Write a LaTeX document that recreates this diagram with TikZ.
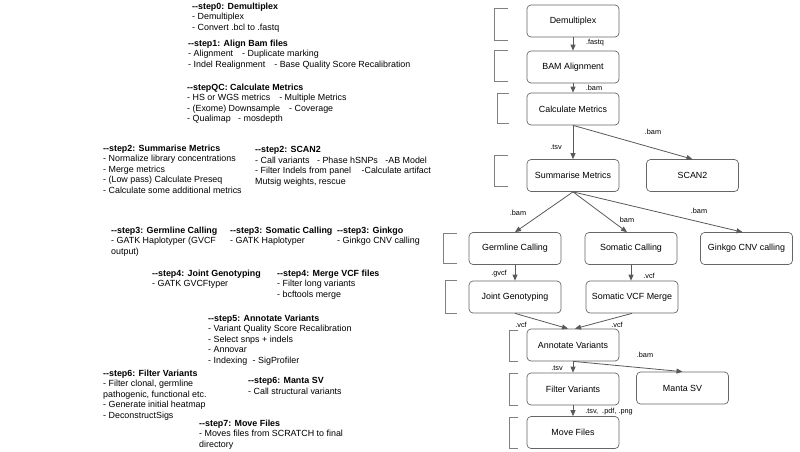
\documentclass[tikz,border=0pt]{standalone}
\usepackage{fontspec}
\setmainfont{Liberation Sans}
\usetikzlibrary{arrows.meta, positioning}

\newcommand{\dblhy}{-\kern0pt-}
\newcommand{\gap}{\hspace*{9pt}}

\begin{document}
\begin{tikzpicture}[
    x=1pt, y=-1pt,
    box/.style = {
        rectangle, rounded corners=4pt,
        draw=black!60, fill=white, line width=0.7pt,
        minimum width=92pt, minimum height=32pt,
        inner sep=0pt, font=\fontsize{8.9}{10.5}\selectfont
    },
    note/.style = {
        anchor=north west, align=left, inner sep=0pt,
        font=\fontsize{8.9}{10.5}\selectfont
    },
    tag/.style = {inner sep=0pt, font=\fontsize{7.3}{8}\selectfont},
    arrow/.style = {-{Triangle[length=6pt, width=5pt]}, line width=0.8pt, black!65},
    brace/.style = {draw=black!50, line width=0.7pt}
]
\useasboundingbox (0,0) rectangle (800,451);

% Cajas
\node[box] (demux)  at (573,21)    {Demultiplex};
\node[box] (bam)    at (573,67)    {BAM Alignment};
\node[box] (calc)   at (573,109)   {Calculate Metrics};
\node[box] (summ)   at (573,175.5) {Summarise Metrics};
\node[box] (scan)   at (692.5,175.5) {SCAN2};
\node[box] (germ)   at (515,248.5) {Germline Calling};
\node[box] (soma)   at (631,248.5) {Somatic Calling};
\node[box] (ginkgo) at (746.5,248.5) {Ginkgo CNV calling};
\node[box] (joint)  at (515,297)   {Joint Genotyping};
\node[box] (merge)  at (632,297)   {Somatic VCF Merge};
\node[box] (annot)  at (573,345)   {Annotate Variants};
\node[box] (filt)   at (573,389)   {Filter Variants};
\node[box] (manta)  at (682.5,388) {Manta SV};
\node[box] (move)   at (573,432.5) {Move Files};

% Corchetes
\draw[brace] (508,8)   -| (494,40)  -- (508,40);
\draw[brace] (508,50)  -| (494,81)  -- (508,81);
\draw[brace] (509,93)  -| (497,123) -- (509,123);
\draw[brace] (508,155) -| (494,186) -- (508,186);
\draw[brace] (457,233) -| (443,263) -- (457,263);
\draw[brace] (457,280) -| (445,313) -- (457,313);
\draw[brace] (518,330) -| (509,361) -- (518,361);
\draw[brace] (518,373) -| (509,405) -- (518,405);
\draw[brace] (518,417) -| (509,448) -- (518,448);

% Pasos
\node[note] (s0) at (192,2.5)
    {\textbf{\dblhy step0: Demultiplex}\\
     - Demultiplex\\
     - Convert .bcl to .fastq};
\node[note] (s1) at (188,39.5)
    {\textbf{\dblhy step1: Align Bam files}\\
     - Alignment\gap - Duplicate marking\\
     - Indel Realignment\gap - Base Quality Score Recalibration};
\node[note] (sqc) at (187,83.5)
    {\textbf{\dblhy stepQC: Calculate Metrics}\\
     - HS or WGS metrics\gap - Multiple Metrics\\
     - (Exome) Downsample\gap - Coverage\\
     - Qualimap\hspace*{5pt} - mosdepth};
\node[note] (s2a) at (103,144.5)
    {\textbf{\dblhy step2: Summarise Metrics}\\
     - Normalize library concentrations\\
     - Merge metrics\\
     - (Low pass) Calculate Preseq\\
     - Calculate some additional metrics};
\node[note] (s2b) at (255,146.5)
    {\textbf{\dblhy step2: SCAN2}\\
     - Call variants\hspace*{5pt} - Phase hSNPs\hspace*{5pt} -AB Model\\
     - Filter Indels from panel\hspace*{8pt} -Calculate artifact\\
     Mutsig weights, rescue};
\node[note] (s3a) at (111,226.5)
    {\textbf{\dblhy step3: Germline Calling}\\
     - GATK Haplotyper (GVCF\\
     output)};
\node[note] (s3b) at (230,226.5)
    {\textbf{\dblhy step3: Somatic Calling}\\
     - GATK Haplotyper};
\node[note] (s3c) at (337,226.5)
    {\textbf{\dblhy step3: Ginkgo}\\
     - Ginkgo CNV calling};
\node[note] (s4a) at (152,269.5)
    {\textbf{\dblhy step4: Joint Genotyping}\\
     - GATK GVCFtyper};
\node[note] (s4b) at (277,269.5)
    {\textbf{\dblhy step4: Merge VCF files}\\
     - Filter long variants\\
     - bcftools merge};
\node[note] (s5) at (208,314.5)
    {\textbf{\dblhy step5: Annotate Variants}\\
     - Variant Quality Score Recalibration\\
     - Select snps + indels\\
     - Annovar\\
     - Indexing\hspace*{3pt} - SigProfiler};
\node[note] (s6a) at (103,369.5)
    {\textbf{\dblhy step6: Filter Variants}\\
     - Filter clonal, germline\\
     pathogenic, functional etc.\\
     - Generate initial heatmap\\
     - DeconstructSigs};
\node[note] (s6b) at (248,377.5)
    {\textbf{\dblhy step6: Manta SV}\\
     - Call structural variants};
\node[note] (s7) at (199,419.5)
    {\textbf{\dblhy step7: Move Files}\\
     - Moves files from SCRATCH to final\\
     directory};

% Flechas
\draw[arrow] (demux) -- (bam);
\draw[arrow] (bam)   -- (calc);
\draw[arrow] (calc)  -- (summ);
\draw[arrow] (calc.south) -- (scan.north);
\draw[arrow] (summ.south) -- (germ.north);
\draw[arrow] (summ.south) -- ([xshift=-4pt]soma.north);
\draw[arrow] (summ.south) -- ([xshift=-4pt]ginkgo.north);
\draw[arrow] (germ)  -- (joint);
\draw[arrow] (soma)  -- (soma |- merge.north);
\draw[arrow] (joint.south) -- ([xshift=-5pt]annot.north);
\draw[arrow] (merge.south) -- ([xshift=2pt]annot.north);
\draw[arrow] (annot) -- (filt);
\draw[arrow] (annot.south) -- (manta.north);
\draw[arrow] (filt)  -- (move);

% Etiquetas
\node[tag] (t1)  at (595,43)  {.fastq};
\node[tag] (t2)  at (594,88)  {.bam};
\node[tag] (t3)  at (556,147) {.tsv};
\node[tag] (t4)  at (653,132) {.bam};
\node[tag] (t5)  at (518,213) {.bam};
\node[tag] (t6)  at (627,220) {bam};
\node[tag] (t7)  at (699,211) {.bam};
\node[tag] (t8)  at (499,274) {.gvcf};
\node[tag] (t9)  at (649,276) {.vcf};
\node[tag] (t10) at (521,325) {.vcf};
\node[tag] (t11) at (617,325) {.vcf};
\node[tag] (t12) at (645,355) {.bam};
\node[tag] (t13) at (557,368) {.tsv};
\node[tag] (t14) at (609,412) {.tsv,\ \ .pdf, .png};

\end{tikzpicture}
\end{document}
